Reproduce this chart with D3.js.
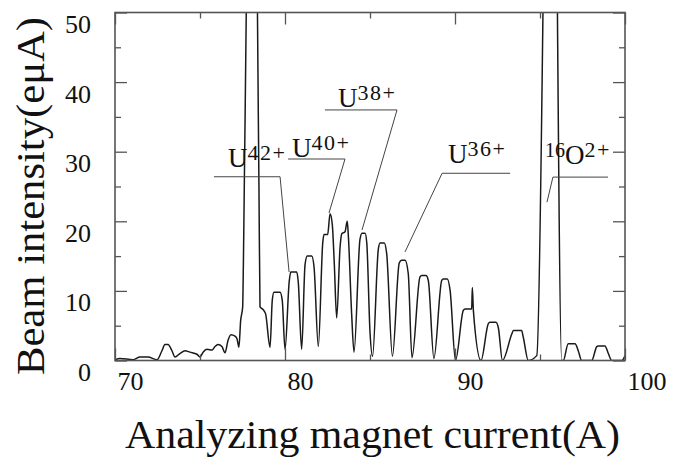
<!DOCTYPE html>
<html>
<head>
<meta charset="utf-8">
<script src="https://cdn.jsdelivr.net/npm/d3@7"></script>
<style>
  body { margin: 0; background: #fff; }
  svg { display: block; }
  text { font-family: 'Liberation Serif', 'DejaVu Serif', serif; fill: #111; }
</style>
</head>
<body>
<div id="chart"></div>
<script>
// magnet current (A) and beam intensity (euA)
const current = [
  70.00, 70.29, 71.06, 71.47, 71.94, 72.47, 72.76, 72.94, 73.12, 73.35,
  73.53, 73.82, 74.12, 74.41, 74.82, 75.00, 75.18, 75.41, 75.71, 75.88,
  76.06, 76.29, 76.47, 76.65, 76.82, 77.06, 77.18, 77.29, 77.39, 77.51,
  77.55, 77.61, 78.09, 78.47, 78.53, 78.72, 78.86, 79.12, 79.25, 79.35,
  79.71, 79.84, 80.00, 80.25, 80.34, 80.69, 80.78, 80.98, 81.18, 81.31,
  81.57, 81.71, 81.96, 82.22, 82.29, 82.51, 82.65, 82.78, 82.90, 83.04,
  83.24, 83.34, 83.53, 83.66, 83.72, 83.92, 84.06, 84.41, 84.53, 84.71,
  84.81, 85.00, 85.15, 85.49, 85.59, 85.84, 85.98, 86.32, 86.72, 86.86,
  87.06, 87.25, 87.47, 87.94, 88.04, 88.29, 88.43, 88.76, 89.22, 89.31,
  89.55, 89.71, 90.03, 90.49, 90.59, 90.98, 91.02, 91.08, 91.53, 91.96,
  92.06, 92.41, 92.55, 92.79, 93.34, 93.43, 93.92, 94.02, 94.31, 94.81,
  95.68, 96.28, 96.37, 96.66, 96.76, 97.06, 97.25, 97.45, 98.04, 98.34,
  98.43, 98.82, 99.02, 99.22, 99.82, 100.00
];
const intensity = [
  0.1, 0.3, 0.1, 0.5, 0.5, 0.1, 1.4, 2.3, 2.3, 1.4,
  0.5, 1.0, 1.4, 1.2, 0.9, 0.5, 1.2, 1.6, 1.5, 2.0,
  2.3, 2.0, 1.1, 2.9, 3.7, 3.5, 3.1, 1.9, 5.7, 7.7,
  13.5, 25.9, 106, 24.4, 7.7, 7.3, 6.7, 1.9, 8.6, 9.8,
  9.8, 8.6, 1.6, 11.4, 12.7, 12.7, 11.3, 1.6, 13.8, 15.0,
  15.0, 13.4, 2.0, 16.9, 18.1, 18.1, 21.1, 19.6, 13.9, 6.1,
  16.3, 18.2, 18.5, 20.0, 18.2, 6.7, 1.2, 17.4, 18.3, 18.3,
  16.9, 4.1, 0.6, 16.0, 16.9, 16.9, 15.4, 0.6, 14.0, 14.4,
  14.4, 12.5, 0.4, 12.0, 12.2, 12.2, 11.5, 0.3, 11.5, 11.7,
  11.7, 10.1, 0.0, 7.2, 7.4, 7.4, 10.5, 7.2, 0.0, 5.3,
  5.5, 5.5, 4.7, 0.0, 3.8, 4.3, 4.3, 3.3, 0.0, 0.7,
  129, 0.0, 0.0, 2.4, 2.4, 2.4, 1.4, 0.0, 0.0, 2.0,
  2.1, 2.1, 1.0, 0.0, 0.0, 0.7
];

const xTicks = [70, 80, 90, 100];
const xMinorTicks = [75, 85, 95];
const yTicks = [0, 10, 20, 30, 40, 50];
const yMinorTicks = [5, 15, 25, 35, 45];

// ion labels: prefix (mass number), element, charge
const ionPrefix = ['', '', '', '', '16'];
const ionName = ['U', 'U', 'U', 'U', 'O'];
const ionCharge = ['42+', '40+', '38+', '36+', '2+'];
// label anchor and leader polyline, in data units
const ionLabelAt = [[76.65, 27.8], [80.41, 29.2], [83.12, 36.4], [89.59, 28.4], [95.29, 28.3]];
const ionLeader = [
  [[75.82, 26.4], [79.71, 26.4], [80.24, 12.7]],
  [[80.18, 28.95], [83.53, 28.95], [82.59, 21.2]],
  [[82.35, 36.0], [86.59, 36.0], [84.53, 18.75]],
  [[93.24, 26.9], [89.24, 26.9], [87.06, 15.6]],
  [[99.0, 26.35], [95.76, 26.35], [95.41, 22.75]]
];

const width = 675, height = 458;
const margin = {top: 12.5, right: 50, bottom: 97.5, left: 115};
const innerW = width - margin.left - margin.right;
const innerH = height - margin.top - margin.bottom;
const serif = "'Liberation Serif', 'DejaVu Serif', serif";

const svg = d3.select('#chart').append('svg')
  .attr('width', width)
  .attr('height', height);

const x = d3.scaleLinear().domain([70, 100]).range([margin.left, margin.left + innerW]);
const y = d3.scaleLinear().domain([0, 50]).range([margin.top + innerH, margin.top]);

svg.append('clipPath').attr('id', 'plot-clip')
  .append('rect')
  .attr('x', margin.left).attr('y', margin.top)
  .attr('width', innerW).attr('height', innerH);

const spectrum = current.map((c, i) => [c, intensity[i]]);

const line = d3.line()
  .curve(d3.curveMonotoneX)
  .x(d => x(d[0]))
  .y(d => y(d[1]));

svg.append('path')
  .datum(spectrum)
  .attr('clip-path', 'url(#plot-clip)')
  .attr('fill', 'none')
  .attr('stroke', '#1a1a1a')
  .attr('stroke-width', 1.5)
  .attr('stroke-linejoin', 'round')
  .attr('d', line);

// ticks on all four sides, pointing inward
function tickAxis(axis, values, size, transform) {
  const g = svg.append('g')
    .attr('transform', transform)
    .call(axis.tickValues(values).tickSize(-size).tickFormat(''));
  g.select('.domain').remove();
  g.selectAll('line').attr('stroke', '#555').attr('stroke-width', 1.3);
  return g;
}
const bottomY = `translate(0,${margin.top + innerH})`;
const topY = `translate(0,${margin.top})`;
const leftX = `translate(${margin.left},0)`;
const rightX = `translate(${margin.left + innerW},0)`;

tickAxis(d3.axisBottom(x), xMinorTicks, 6, bottomY);
tickAxis(d3.axisTop(x), xMinorTicks, 6, topY);
tickAxis(d3.axisTop(x), xTicks, 12, topY);
tickAxis(d3.axisLeft(y), yMinorTicks, 6, leftX);
tickAxis(d3.axisRight(y), yMinorTicks, 6, rightX);
tickAxis(d3.axisRight(y), yTicks, 12, rightX);

const xAxis = svg.append('g')
  .attr('transform', bottomY)
  .call(d3.axisBottom(x).tickValues(xTicks).tickSize(-12).tickFormat(d3.format('d')));
xAxis.select('.domain').remove();
xAxis.selectAll('line').attr('stroke', '#555').attr('stroke-width', 1.3);
xAxis.selectAll('text')
  .style('font-family', serif)
  .style('font-size', '26px')
  .style('fill', '#111')
  .attr('text-anchor', 'start')
  .attr('x', 2)
  .attr('y', 29)
  .attr('dy', 0);

const yAxis = svg.append('g')
  .attr('transform', leftX)
  .call(d3.axisLeft(y).tickValues(yTicks).tickSize(-12).tickFormat(d3.format('d')));
yAxis.select('.domain').remove();
yAxis.selectAll('line').attr('stroke', '#555').attr('stroke-width', 1.3);
yAxis.selectAll('text')
  .style('font-family', serif)
  .style('font-size', '26px')
  .style('fill', '#111')
  .attr('text-anchor', 'end')
  .attr('x', -24)
  .attr('y', 20)
  .attr('dy', 0);

// frame
svg.append('rect')
  .attr('x', margin.left).attr('y', margin.top)
  .attr('width', innerW).attr('height', innerH)
  .attr('fill', 'none')
  .attr('stroke', '#555')
  .attr('stroke-width', 1.6);

// leaders and ion labels
const leaderLine = d3.line().x(d => x(d[0])).y(d => y(d[1]));
svg.append('g').selectAll('path')
  .data(ionLeader)
  .join('path')
  .attr('fill', 'none')
  .attr('stroke', '#444')
  .attr('stroke-width', 1)
  .attr('d', leaderLine);

const labels = svg.append('g').selectAll('text')
  .data(ionName.map((n, i) => ({pre: ionPrefix[i], name: n, charge: ionCharge[i], at: ionLabelAt[i]})))
  .join('text')
  .attr('x', d => x(d.at[0]))
  .attr('y', d => y(d.at[1]));

labels.filter(d => d.pre)
  .append('tspan')
  .attr('font-size', 20)
  .attr('dy', -7)
  .text(d => d.pre);
labels.append('tspan')
  .attr('font-size', 27)
  .attr('dy', d => d.pre ? 7 : 0)
  .text(d => d.name);
labels.append('tspan')
  .attr('font-size', 22)
  .attr('letter-spacing', 1.5)
  .attr('dy', -7)
  .text(d => d.charge);

// axis titles
svg.append('text')
  .attr('x', 125)
  .attr('y', 448)
  .attr('font-size', 39)
  .attr('textLength', 495)
  .attr('lengthAdjust', 'spacingAndGlyphs')
  .text('Analyzing magnet current(A)');

svg.append('text')
  .attr('transform', 'translate(44,196) rotate(-90)')
  .attr('text-anchor', 'middle')
  .attr('font-size', 40)
  .attr('textLength', 358)
  .attr('lengthAdjust', 'spacingAndGlyphs')
  .text('Beam intensity(eμA)');
</script>
</body>
</html>
